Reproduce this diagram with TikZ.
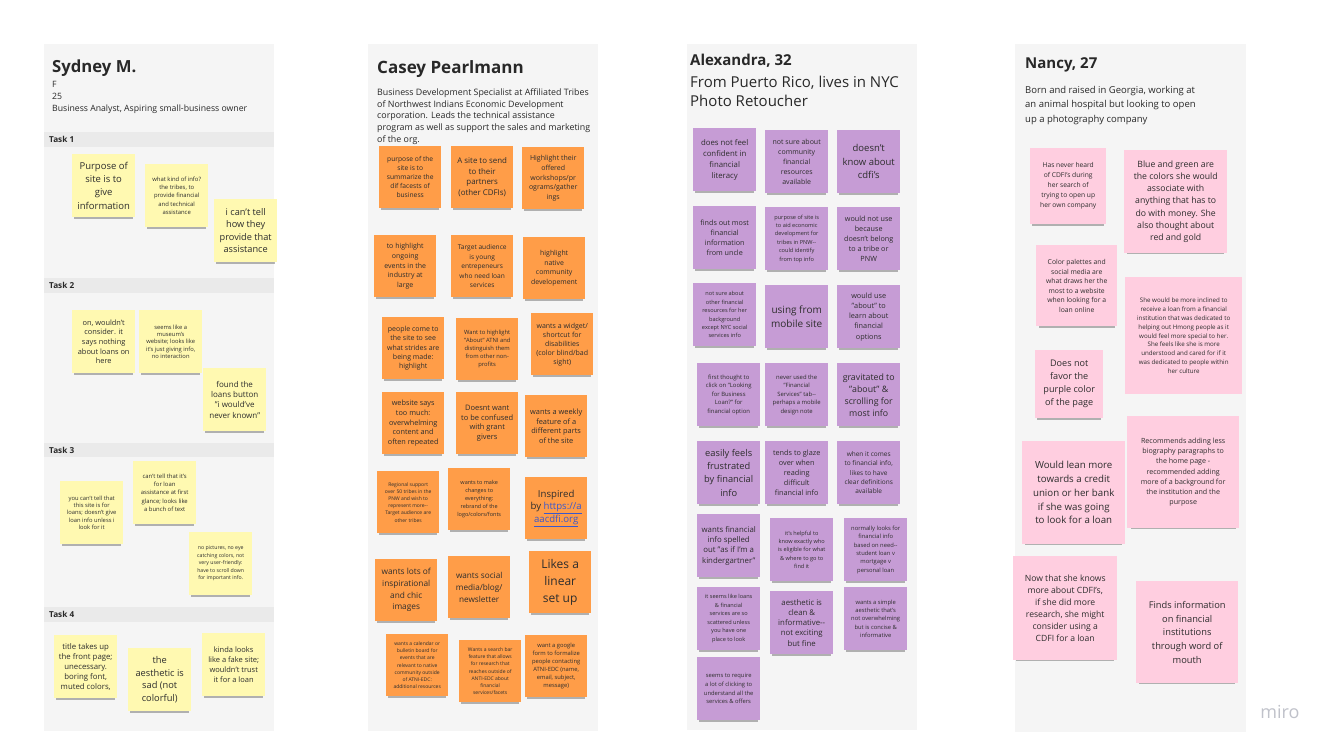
\documentclass[tikz,border=0pt]{standalone}
\usepackage{fontspec}
\setmainfont{Open Sans}
\usetikzlibrary{shadows}

\definecolor{panelgray}{RGB}{245,245,245}
\definecolor{taskgray}{RGB}{234,234,234}
\definecolor{stickyyellow}{RGB}{255,249,177}
\definecolor{stickyorange}{RGB}{255,157,72}
\definecolor{stickyviolet}{RGB}{198,156,213}
\definecolor{stickypink}{RGB}{255,206,224}
\definecolor{notetext}{RGB}{45,45,45}
\definecolor{headtext}{RGB}{40,40,40}
\definecolor{linkblue}{RGB}{58,88,205}
\definecolor{mirogray}{RGB}{192,194,202}

\tikzset{
  note/.style={anchor=north west, minimum width=63pt, minimum height=63pt, inner sep=1pt,
    align=center, text=notetext,
    drop shadow={shadow xshift=0pt, shadow yshift=-4pt, shadow scale=.94, opacity=.28, fill=black}},
  yellownote/.style={note, fill=stickyyellow},
  orangenote/.style={note, fill=stickyorange, minimum width=62pt, minimum height=62pt},
  violetnote/.style={note, fill=stickyviolet},
  pinknote/.style={note, fill=stickypink},
  notesize/.style={minimum width=#1, minimum height=#1},
  txt/.style 2 args={font=\fontsize{#1}{#2}\selectfont},
  panel/.style={fill=panelgray},
  taskbar/.style={fill=taskgray},
  tasklabel/.style={anchor=west, inner sep=0pt, text=headtext, font=\fontsize{8.2}{10}\selectfont\bfseries},
  persona/.style={anchor=base west, inner sep=0pt, text=headtext, font=\fontsize{#1}{#1}\selectfont\bfseries},
  about/.style={anchor=north west, inner sep=0pt, align=left, text=headtext}
}

\begin{document}
\begin{tikzpicture}[x=1pt, y=-1pt]
\useasboundingbox[fill=white] (0,0) rectangle (1333,750);

\fill[panel] (44,44) rectangle (274,731);
\fill[panel] (368,44) rectangle (598,731);
\fill[panel] (687,44) rectangle (917,730);
\fill[panel] (1015,44) rectangle (1246,732);

% Sydney
\node[persona=16.7] (sydney) at (52,72) {Sydney M.};
\node[about, txt={8.7}{11.8}] (sydneyinfo) at (52,81) {F\\ 25\\ Business Analyst, Aspiring small-business owner};

\fill[taskbar] (44,132) rectangle (274,147);
\node[tasklabel] (task1) at (49,139.5) {Task 1};
\fill[taskbar] (44,278) rectangle (274,293);
\node[tasklabel] (task2) at (49,285.5) {Task 2};
\fill[taskbar] (44,443) rectangle (274,457);
\node[tasklabel] (task3) at (49,450) {Task 3};
\fill[taskbar] (44,607) rectangle (274,622);
\node[tasklabel] (task4) at (49,614.5) {Task 4};

\node[yellownote, txt={9.5}{13.2}] (S1) at (72,154) {Purpose of\\ site is to\\ give\\ information};
\node[yellownote, txt={5.9}{8.3}] (S2) at (145,164) {what kind of info?\\ the tribes, to\\ provide financial\\ and technical\\ assistance};
\node[yellownote, txt={9.2}{12.4}] (S3) at (214,199) {i can't tell\\ how they\\ provide that\\ assistance};
\node[yellownote, txt={7.4}{9.6}] (S4) at (72,310) {on, wouldn't\\ consider. it\\ says nothing\\ about loans on\\ here};
\node[yellownote, txt={5.8}{7.4}] (S5) at (139,310) {seems like a\\ museum's\\ website; looks like\\ it's just giving info,\\ no interaction};
\node[yellownote, txt={8}{10.4}] (S6) at (203,368) {found the\\ loans button\\ "i would've\\ never known"};
\node[yellownote, txt={5.8}{7.4}] (S7) at (60,481) {you can't tell that\\ this site is for\\ loans; doesn't give\\ loan info unless i\\ look for it};
\node[yellownote, txt={5.9}{8.2}] (S8) at (133,461) {can't tell that it's\\ for loan\\ assistance at first\\ glance; looks like\\ a bunch of text};
\node[yellownote, txt={5.2}{7.5}] (S9) at (189,532) {no pictures, no eye\\ catching colors, not\\ very user-friendly:\\ have to scroll down\\ for important info.};
\node[yellownote, txt={7.8}{10}] (S10) at (54,635) {title takes up\\ the front page;\\ unecessary.\\ boring font,\\ muted colors,};
\node[yellownote, txt={9.3}{12.7}] (S11) at (128,648) {the\\ aesthetic is\\ sad (not\\ colorful)};
\node[yellownote, txt={7.5}{10}] (S12) at (202,633) {kinda looks\\ like a fake site;\\ wouldn't trust\\ it for a loan};

% Casey
\node[persona=17] (casey) at (377,73) {Casey Pearlmann};
\node[about, txt={8.85}{11.7}] (caseyinfo) at (377,88.5) {Business Development Specialist at Affiliated Tribes\\ of Northwest Indians Economic Development\\ corporation. Leads the technical assistance\\ program as well as support the sales and marketing\\ of the org.};

\node[orangenote, txt={6.7}{9}] (C1) at (379,146) {purpose of the\\ site is to\\ summarize the\\ dif facests of\\ business};
\node[orangenote, txt={7.9}{10.6}] (C2) at (451,146) {A site to send\\ to their\\ partners\\ (other CDFIs)};
\node[orangenote, txt={7}{9.7}] (C3) at (522,147) {Highlight their\\ offered\\ workshops/pr\\ ograms/gather\\ ings};
\node[orangenote, txt={7}{9.9}] (C4) at (374,235) {to highlight\\ ongoing\\ events in the\\ industry at\\ large};
\node[orangenote, txt={6.6}{9.4}] (C5) at (451,235) {Target audience\\ is young\\ entrepeneurs\\ who need loan\\ services};
\node[orangenote, txt={6.9}{9.6}] (C6) at (523,237) {highlight\\ native\\ community\\ developement};
\node[orangenote, txt={7}{9.3}] (C7) at (382,317) {people come to\\ the site to see\\ what strides are\\ being made:\\ highlight};
\node[orangenote, txt={5.8}{8}] (C8) at (456,318) {Want to highlight\\ "About" ATNI and\\ distinguish them\\ from other non-\\ profits};
\node[orangenote, txt={7}{9}] (C9) at (531,313) {wants a widget/\\ shortcut for\\ disabilities\\ (color blind/bad\\ sight)};
\node[orangenote, txt={7.3}{9.7}] (C10) at (382,392) {website says\\ too much:\\ overwhelming\\ content and\\ often repeated};
\node[orangenote, txt={7.5}{9.6}] (C11) at (456,392) {Doesnt want\\ to be confused\\ with grant\\ givers};
\node[orangenote, txt={7.4}{9.6}] (C12) at (525,395) {wants a weekly\\ feature of a\\ different parts\\ of the site};
\node[orangenote, txt={5}{7.2}] (C13) at (377,471) {Regional support\\ over 50 tribes in the\\ PNW and wish to\\ represent more-{}-\\ Target audience are\\ other tribes};
\node[orangenote, txt={5.5}{8}] (C14) at (448,468) {wants to make\\ changes to\\ everything:\\ rebrand of the\\ logo/colors/fonts};
\node[orangenote, txt={9.6}{12.7}] (C15) at (525,477) {Inspired\\ by \textcolor{linkblue}{\underline{https://a}}\\ \textcolor{linkblue}{\underline{aacdfi.org}}};
\node[orangenote, txt={8.3}{11.7}] (C16) at (375,559) {wants lots of\\ inspirational\\ and chic\\ images};
\node[orangenote, txt={8.2}{12}] (C17) at (448,556) {wants social\\ media/blog/\\ newsletter};
\node[orangenote, txt={12}{16.7}] (C18) at (529,551) {Likes a\\ linear\\ set up};
\node[orangenote, txt={5}{7.2}] (C19) at (386,634) {wants a calendar or\\ bulletin board for\\ events that are\\ relevant to native\\ community outside\\ of ATNI-EDC:\\ additional resources};
\node[orangenote, txt={5}{7.3}] (C20) at (459,640) {Wants a search bar\\ feature that allows\\ for research that\\ reaches outside of\\ ANTI-EDC about\\ financial\\ services/facets};
\node[orangenote, txt={5.8}{8}] (C21) at (525,635) {want a google\\ form to formalize\\ people contacting\\ ATNI-EDC (name,\\ email, subject,\\ message)};

% Alexandra
\node[persona=15] (alexandra) at (690,65) {Alexandra, 32};
\node[about, txt={15}{19}] (alexandrainfo) at (690,75.5) {From Puerto Rico, lives in NYC\\ Photo Retoucher};

\node[violetnote, txt={7.8}{11}] (A1) at (693,128) {does not feel\\ confident in\\ financial\\ literacy};
\node[violetnote, txt={7}{10}] (A2) at (765,130) {not sure about\\ community\\ financial\\ resources\\ available};
\node[violetnote, txt={9.5}{13.3}] (A3) at (837,130) {doesn't\\ know about\\ cdfi's};
\node[violetnote, txt={7.2}{10}] (A4) at (693,206) {finds out most\\ financial\\ information\\ from uncle};
\node[violetnote, txt={5.6}{8.4}] (A5) at (765,207) {purpose of site is\\ to aid economic\\ development for\\ tribes in PNW-{}-\\ could identify\\ from top info};
\node[violetnote, txt={7.2}{10}] (A6) at (837,207) {would not use\\ because\\ doesn't belong\\ to a tribe or\\ PNW};
\node[violetnote, txt={5.6}{8.4}] (A7) at (693,283) {not sure about\\ other financial\\ resources for her\\ background\\ except NYC social\\ services info};
\node[violetnote, txt={10}{14}] (A8) at (765,285) {using from\\ mobile site};
\node[violetnote, txt={7.3}{10.3}] (A9) at (837,285) {would use\\ "about" to\\ learn about\\ financial\\ options};
\node[violetnote, txt={5.9}{8.4}] (A10) at (697,363) {first thought to\\ click on "Looking\\ for Business\\ Loan?" for\\ financial option};
\node[violetnote, txt={5.9}{8.4}] (A11) at (765,363) {never used the\\ "Financial\\ Services" tab-{}-\\ perhaps a mobile\\ design note};
\node[violetnote, txt={8.8}{12}] (A12) at (837,363) {gravitated to\\ "about" \&\\ scrolling for\\ most info};
\node[violetnote, txt={9.3}{13.3}] (A13) at (697,441) {easily feels\\ frustrated\\ by financial\\ info};
\node[violetnote, txt={7.3}{10}] (A14) at (765,441) {tends to glaze\\ over when\\ reading\\ difficult\\ financial info};
\node[violetnote, txt={6.5}{9.4}] (A15) at (837,441) {when it comes\\ to financial info,\\ likes to have\\ clear definitions\\ available};
\node[violetnote, txt={7.8}{10.3}] (A16) at (697,514) {wants financial\\ info spelled\\ out "as if I'm a\\ kindergartner"};
\node[violetnote, txt={5.6}{8.3}] (A17) at (770,518) {it's helpful to\\ know exactly who\\ is eligible for what\\ \& where to go to\\ find it};
\node[violetnote, txt={5.8}{8.4}] (A18) at (844,518) {normally looks for\\ financial info\\ based on need-{}-\\ student loan v\\ mortgage v\\ personal loan};
\node[violetnote, txt={5.6}{8.5}] (A19) at (697,587) {it seems like loans\\ \& financial\\ services are so\\ scattered unless\\ you have one\\ place to look};
\node[violetnote, txt={7.8}{10.3}] (A20) at (770,591) {aesthetic is\\ clean \&\\ informative-{}-\\ not exciting\\ but fine};
\node[violetnote, txt={5.8}{8.4}] (A21) at (844,587) {wants a simple\\ aesthetic that's\\ not overwhelming\\ but is concise \&\\ informative};
\node[violetnote, txt={5.8}{8.7}] (A22) at (697,657) {seems to require\\ a lot of clicking to\\ understand all the\\ services \& offers};

% Nancy
\node[persona=15] (nancy) at (1025,68) {Nancy, 27};
\node[about, txt={9.5}{14.5}] (nancyinfo) at (1025,86) {Born and raised in Georgia, working at\\ an animal hospital but looking to open\\ up a photography company};

\node[pinknote, notesize=76pt, txt={6.7}{10}] (P1) at (1030,148) {Has never heard\\ of CDFI's during\\ her search of\\ trying to open up\\ her own company};
\node[pinknote, notesize=103pt, txt={8.7}{12.3}] (P2) at (1124,150) {Blue and green are\\ the colors she would\\ associate with\\ anything that has to\\ do with money. She\\ also thought about\\ red and gold};
\node[pinknote, notesize=81pt, txt={6.8}{9.5}] (P3) at (1036,245) {Color palettes and\\ social media are\\ what draws her the\\ most to a website\\ when looking for a\\ loan online};
\node[pinknote, notesize=117pt, txt={6.2}{8.8}] (P4) at (1125,277) {She would be more inclined to\\ receive a loan from a financial\\ institution that was dedicated to\\ helping out Hmong people as it\\ would feel more special to her.\\ She feels like she is more\\ understood and cared for if it\\ was dedicated to people within\\ her culture};
\node[pinknote, notesize=68pt, txt={9.1}{13}] (P5) at (1035,350) {Does not\\ favor the\\ purple color\\ of the page};
\node[pinknote, notesize=112pt, txt={7.1}{10.3}] (P6) at (1127,416) {Recommends adding less\\ biography paragraphs to\\ the home page -\\ recommended adding\\ more of a background for\\ the institution and the\\ purpose};
\node[pinknote, notesize=103pt, txt={9.7}{13.7}] (P7) at (1022,441) {Would lean more\\ towards a credit\\ union or her bank\\ if she was going\\ to look for a loan};
\node[pinknote, notesize=104pt, txt={8.6}{12}] (P8) at (1013,556) {Now that she knows\\ more about CDFI's,\\ if she did more\\ research, she might\\ consider using a\\ CDFI for a loan};
\node[pinknote, notesize=102pt, txt={9.3}{13.7}] (P9) at (1136,581) {Finds information\\ on financial\\ institutions\\ through word of\\ mouth};

\node[text=mirogray, font=\fontsize{18}{18}\selectfont] (miro) at (1280,712) {miro};
\end{tikzpicture}
\end{document}
